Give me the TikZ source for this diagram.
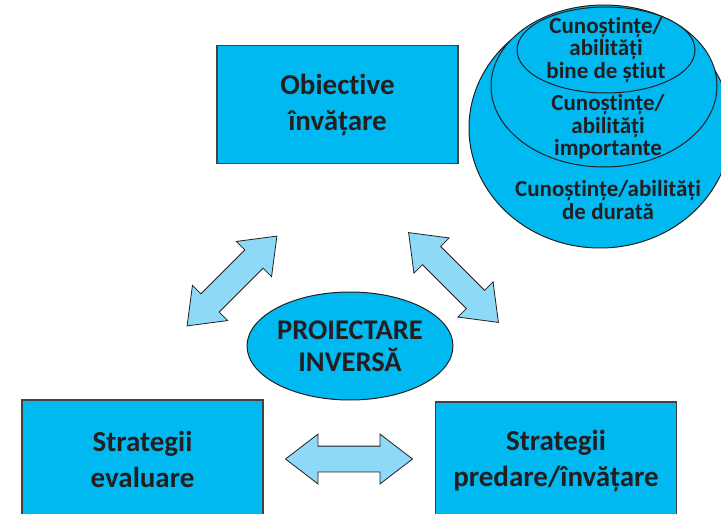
\documentclass[tikz,border=0pt]{standalone}
\usepackage{fontspec}
\setmainfont{Carlito}[Ligatures={NoCommon}]
\usetikzlibrary{shapes.geometric,shapes.arrows}

\definecolor{boxblue}{HTML}{00B9F1}
\definecolor{arrowblue}{HTML}{8ED8F8}
\definecolor{ink}{HTML}{231F20}

\begin{document}
\begin{tikzpicture}[x=1pt, y=-1pt,
    box/.style={draw=ink!85, line width=1.2pt, fill=boxblue, minimum width=241pt, minimum height=118pt, align=center, text=ink, font={\fontsize{29}{36}\selectfont\bfseries}},
    oval/.style={ellipse, draw=ink, line width=1pt, fill=boxblue, inner sep=0pt, align=center, text=ink},
    ovaltext/.style={align=center, text=ink, font={\fontsize{23}{22.5}\selectfont\bfseries}},
    twoway/.style={double arrow, draw=ink, line width=0.8pt, fill=arrowblue, inner sep=0pt, inner ysep=12.5pt, minimum height=127pt, double arrow head extend=12pt, double arrow tip angle=75, sloped}]

        \useasboundingbox (0,0) rectangle (721,514);
        \clip (0,0) rectangle (721,514);

        \node[box] (obj) at (337.5,104.5) {Obiective\\învățare};


        \node[box] (eval) at (142.5,459) {Strategii\\evaluare};


        \node[box] (pred) at (556,461) {Strategii\\predare/învățare};


        \node[oval, minimum width=196pt, minimum height=108pt, font={\fontsize{28.5}{32}\selectfont\bfseries}] (proj) at (350,346) {PROIECTARE\\INVERSĂ};

        % cercurile din dreapta sus
        \node[oval, minimum width=262pt, minimum height=240pt] (lasting) at (600,128) {};
        \node[oval, minimum width=226pt, minimum height=162pt] (important) at (604,86) {};
        \node[oval, minimum width=178pt, minimum height=86pt] (worth) at (606,50) {};

        \node[ovaltext] (worthtext) at (606,50) {Cunoștințe/\\abilități\\bine de știut};
        \node[ovaltext] (importanttext) at (608,127) {Cunoștințe/\\abilități\\importante};
        \node[ovaltext] (lastingtext) at (608,200) {Cunoștințe/abilități\\de durată};

        % sagetile duble
        \coordinate (l1) at (187,326);
        \coordinate (l2) at (277,236);
        \coordinate (r1) at (409,233);
        \coordinate (r2) at (498,322);
        \coordinate (h1) at (286,459);
        \coordinate (h2) at (412,459);

        \path (l1) -- node[twoway] (leftlink) {} (l2);
        \path (r1) -- node[twoway] (rightlink) {} (r2);
        \path (h1) -- node[twoway] (bottomlink) {} (h2);
    \end{tikzpicture}
\end{document}
